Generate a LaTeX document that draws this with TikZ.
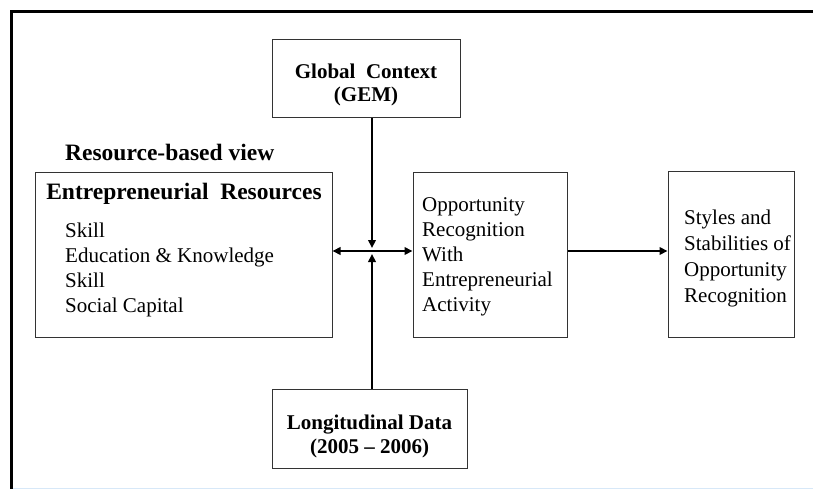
\documentclass[tikz,border=0pt]{standalone}
\usepackage{fontspec}
\setmainfont{Liberation Serif}
\usetikzlibrary{arrows.meta,calc}
\begin{document}
\begin{tikzpicture}[x=1pt,y=-1pt,
  box/.style={draw=black!80,line width=1pt,inner sep=0pt},
  plain/.style={inner sep=0pt,font=\fontsize{21}{25}\selectfont,align=left},
  heading/.style={inner sep=0pt,font=\fontsize{21}{23}\selectfont\bfseries,align=center},
  bigheading/.style={inner sep=0pt,font=\fontsize{23.5}{26}\selectfont\bfseries},
  link/.style={line width=2.4pt,-{Triangle[length=8pt,width=7.5pt]}},
  twoway/.style={line width=2.4pt,{Triangle[length=8pt,width=7.5pt]}-{Triangle[length=8pt,width=7.5pt]}}]
  \useasboundingbox (0,0) rectangle (813,489);
  \fill[white] (0,0) rectangle (813,489);

  % outer frame: heavy rule on the left and top, faint rule at the foot
  \draw[line width=3pt] (11.5,489) -- (11.5,11.5) -- (813,11.5);
  \draw[line width=1pt,draw={rgb,255:red,215;green,232;blue,248}] (13,488.5) -- (813,488.5);

  % boxes
  \node[box,minimum width=188pt,minimum height=78pt] (global) at (366,79) {};
  \node[box,minimum width=297pt,minimum height=164pt] (res) at (183.5,255) {};
  \node[box,minimum width=154pt,minimum height=164pt] (opp) at (490,255) {};
  \node[box,minimum width=126pt,minimum height=165pt] (sty) at (731,254.5) {};
  \node[box,minimum width=195pt,minimum height=79pt] (lon) at (369.5,428.5) {};

  % texts
  \node[heading] (globaltxt) at (366,84.5) {Global\ \ Context\\(GEM)};
  \node[bigheading,anchor=west] (rbv) at (65,152) {Resource-based view};
  \node[bigheading] (restitle) at (184,194) {Entrepreneurial\ \ Resources};
  \node[plain,anchor=west] (reslist) at (65,270) {Skill\\Education \& Knowledge\\Skill\\Social Capital};
  \node[plain,anchor=west] (opptxt) at (422,256.5) {Opportunity\\Recognition\\With\\Entrepreneurial\\Activity};
  \node[plain,anchor=west,font=\fontsize{21}{26}\selectfont] (stytxt) at (684,258.5) {Styles and\\Stabilities of\\Opportunity\\Recognition};
  \node[heading,font=\fontsize{21}{24}\selectfont\bfseries] (lontxt) at (369.5,436.5) {Longitudinal Data\\(2005 -- 2006)};

  % connectors
  \coordinate (hub) at (372,251);
  \draw[link] (hub |- global.south) -- ($(hub)+(0,-3)$);
  \draw[link] (hub |- lon.north) -- ($(hub)+(0,3)$);
  \draw[twoway] (res.east |- hub) -- (opp.west |- hub);
  \draw[link] (opp.east |- hub) -- (sty.west |- hub);
\end{tikzpicture}
\end{document}
